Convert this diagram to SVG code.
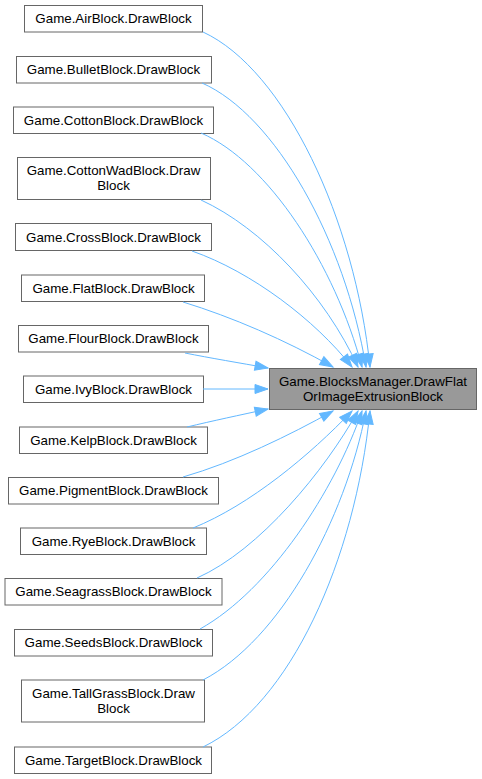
<svg xmlns="http://www.w3.org/2000/svg" width="482" height="779" viewBox="0 0 482 779">
<style>
.n rect{fill:#ffffff;stroke:#666666;stroke-width:1}
.t rect{fill:#999999;stroke:#666666;stroke-width:1}
text{font-family:"Liberation Sans",Arial,sans-serif;font-size:13.33px;fill:#000000;text-anchor:middle}
.e path{fill:none;stroke:#63b8ff;stroke-width:1;marker-end:url(#ah)}
</style>
<defs>
<marker id="ah" markerUnits="userSpaceOnUse" markerWidth="15" markerHeight="11" refX="13" refY="4.5" orient="auto" overflow="visible">
<path d="M0,0 L13,4.5 L0,9 Z" fill="#63b8ff" stroke="#63b8ff" stroke-width="1"/>
</marker>
</defs>
<rect width="482" height="779" fill="#ffffff"/>
<g id="node-target" class="t"><rect x="269.5" y="368.5" width="207" height="41"/><text x="373" y="386">Game.BlocksManager.DrawFlat</text><text x="373" y="401">OrImageExtrusionBlock</text></g>
<g id="node-air" class="n"><rect x="24.5" y="5.5" width="178" height="26.5"/><text x="113.5" y="23">Game.AirBlock.DrawBlock</text></g>
<g id="node-bullet" class="n"><rect x="16.5" y="56.5" width="195" height="26.5"/><text x="113.5" y="74">Game.BulletBlock.DrawBlock</text></g>
<g id="node-cotton" class="n"><rect x="13.5" y="107" width="200" height="26.5"/><text x="113.5" y="124.5">Game.CottonBlock.DrawBlock</text></g>
<g id="node-cottonwad" class="n"><rect x="17.5" y="157.5" width="193" height="42"/><text x="113.5" y="175">Game.CottonWadBlock.Draw</text><text x="113.5" y="190">Block</text></g>
<g id="node-cross" class="n"><rect x="15.5" y="223.5" width="196" height="27"/><text x="113.5" y="241.5">Game.CrossBlock.DrawBlock</text></g>
<g id="node-flat" class="n"><rect x="21.5" y="275" width="183" height="26.5"/><text x="113.5" y="292.5">Game.FlatBlock.DrawBlock</text></g>
<g id="node-flour" class="n"><rect x="18.5" y="325.5" width="190" height="26.5"/><text x="113.5" y="343">Game.FlourBlock.DrawBlock</text></g>
<g id="node-ivy" class="n"><rect x="23.5" y="376" width="180" height="26.5"/><text x="113.5" y="393.5">Game.IvyBlock.DrawBlock</text></g>
<g id="node-kelp" class="n"><rect x="19.5" y="427" width="188" height="26.5"/><text x="113.5" y="444.5">Game.KelpBlock.DrawBlock</text></g>
<g id="node-pigment" class="n"><rect x="8.5" y="477.5" width="210" height="26.5"/><text x="113.5" y="495">Game.PigmentBlock.DrawBlock</text></g>
<g id="node-rye" class="n"><rect x="20.5" y="528" width="186" height="26.5"/><text x="113.5" y="545.5">Game.RyeBlock.DrawBlock</text></g>
<g id="node-seagrass" class="n"><rect x="5" y="578.5" width="217" height="26.5"/><text x="113.5" y="596">Game.SeagrassBlock.DrawBlock</text></g>
<g id="node-seeds" class="n"><rect x="14.5" y="629.5" width="198" height="26.5"/><text x="113.5" y="647">Game.SeedsBlock.DrawBlock</text></g>
<g id="node-tallgrass" class="n"><rect x="21.5" y="680" width="183" height="42"/><text x="113.5" y="697.5">Game.TallGrassBlock.Draw</text><text x="113.5" y="712.5">Block</text></g>
<g id="node-targetblock" class="n"><rect x="14.5" y="747" width="197" height="26.5"/><text x="113.5" y="764.5">Game.TargetBlock.DrawBlock</text></g>
<g id="connectors" class="e">
<path d="M203,32 C285,70 355,220 370,367"/>
<path d="M202,83 C275,115 345,240 366,367"/>
<path d="M201,133 C268,162 335,265 362,367"/>
<path d="M201,200 C262,228 325,295 358,367"/>
<path d="M192,251 C252,272 315,320 352,367"/>
<path d="M183,302 C232,317 285,340 333,367"/>
<path d="M185,353 C210,358 240,363 268,368"/>
<path d="M203,389 L268,389"/>
<path d="M187,427 C212,421 240,415 268,409"/>
<path d="M183,477 C235,462 290,435 333,411"/>
<path d="M193,528 C250,505 310,455 352,411"/>
<path d="M197,578 C260,550 325,470 358,411"/>
<path d="M200,629 C270,590 335,490 362,411"/>
<path d="M203,680 C280,640 345,520 366,411"/>
<path d="M203,747 C290,705 355,560 370,411"/>
</g>
</svg>
